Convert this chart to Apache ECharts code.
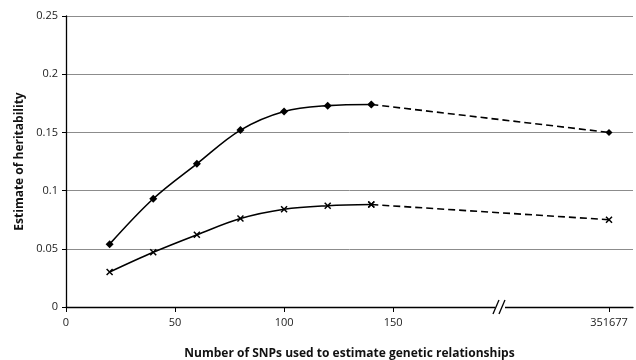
<!DOCTYPE html>
<html><head><meta charset="utf-8">
<script src="https://cdn.jsdelivr.net/npm/echarts@6/dist/echarts.min.js"></script>
<style>html,body{margin:0;padding:0;background:#fff}#c{width:636px;height:360px}</style>
</head><body><div id="c"></div>
<script>
// Data
var snpCounts = [20, 40, 60, 80, 100, 120, 140];
var allSnpCount = 351677;
var diamondValues = [0.054, 0.093, 0.123, 0.152, 0.168, 0.173, 0.174];
var diamondAll = 0.150;
var crossValues = [0.030, 0.047, 0.062, 0.076, 0.084, 0.087, 0.088];
var crossAll = 0.075;
var xTickLabels = ['0', '50', '100', '150', '351677'];
var yTickLabels = ['0', '0.05', '0.1', '0.15', '0.2', '0.25'];

// Broken axis: the full SNP count is shown at a compressed position
var breakPos = 199;      // where the axis break mark sits
var allSnpPos = 249;     // axis position used for the full SNP count
var xTickValues = [0, 50, 100, 150, allSnpPos];

var chart = echarts.init(document.getElementById('c'));
var font = 'Open Sans, DejaVu Sans, sans-serif';
var crossSym = 'path://M0,0L10,10M10,0L0,10';

function pairs(xs, ys) { return xs.map(function (x, i) { return [x, ys[i]]; }); }
var last = snpCounts.length - 1;

chart.setOption({
  animation: false,
  grid: { left: 66, right: 3, top: 16, bottom: 53, outerBoundsMode: 'none', containLabel: false },
  xAxis: {
    type: 'value', min: 0, max: 260,
    name: 'Number of SNPs used to estimate genetic relationships',
    nameLocation: 'middle', nameGap: 41,
    nameTextStyle: { fontFamily: font, fontWeight: 'bold', fontSize: 12, color: '#111' },
    axisLine: { lineStyle: { color: '#000', width: 1.3 } },
    axisTick: { show: true, customValues: xTickValues, length: 5, lineStyle: { color: '#000' } },
    axisLabel: {
      customValues: xTickValues, fontFamily: font, fontSize: 11, color: '#222', margin: 10,
      formatter: function (v) { var i = xTickValues.indexOf(v); return i >= 0 ? xTickLabels[i] : ''; }
    },
    splitLine: { show: false }
  },
  yAxis: {
    type: 'value', min: 0, max: 0.25, interval: 0.05,
    name: 'Estimate of heritability', nameLocation: 'middle', nameGap: 38,
    nameTextStyle: { fontFamily: font, fontWeight: 'bold', fontSize: 12, color: '#111' },
    axisLine: { show: true, lineStyle: { color: '#000', width: 1.3 } },
    axisTick: { show: true, length: 4, inside: false, lineStyle: { color: '#000' } },
    axisLabel: {
      fontFamily: font, fontSize: 11, color: '#222', margin: 8,
      formatter: function (v) { return yTickLabels[Math.round(v / 0.05)]; }
    },
    splitLine: { show: true, lineStyle: { color: '#8c8c8c', width: 1 } }
  },
  series: [
    { type: 'line', data: pairs(snpCounts, diamondValues), smooth: 0.35,
      symbol: 'diamond', symbolSize: 8, itemStyle: { color: '#000' },
      lineStyle: { color: '#000', width: 1.6 } },
    { type: 'line', data: [[snpCounts[last], diamondValues[last]], [allSnpPos, diamondAll]],
      symbol: 'diamond', symbolSize: 7, itemStyle: { color: '#000' },
      lineStyle: { color: '#000', width: 1.6, type: [7, 4] } },
    { type: 'line', data: pairs(snpCounts, crossValues), smooth: 0.35,
      symbol: crossSym, symbolSize: 6,
      itemStyle: { color: 'none', borderColor: '#000', borderWidth: 1.5 },
      lineStyle: { color: '#000', width: 1.6 } },
    { type: 'line', data: [[snpCounts[last], crossValues[last]], [allSnpPos, crossAll]],
      symbol: crossSym, symbolSize: 6,
      itemStyle: { color: 'none', borderColor: '#000', borderWidth: 1.5 },
      lineStyle: { color: '#000', width: 1.6, type: [7, 4] } }
  ]
});

// Axis break mark "//"
var p = chart.convertToPixel({ gridIndex: 0 }, [breakPos, 0]);
chart.setOption({
  graphic: [
    { type: 'rect', shape: { x: p[0] - 5, y: p[1] - 3, width: 10, height: 6 }, style: { fill: '#fff' }, z: 100 },
    { type: 'line', shape: { x1: p[0] - 7, y1: p[1] + 7, x2: p[0] - 1, y2: p[1] - 7 }, style: { stroke: '#000', lineWidth: 1.3 }, z: 101 },
    { type: 'line', shape: { x1: p[0] - 1, y1: p[1] + 7, x2: p[0] + 5, y2: p[1] - 7 }, style: { stroke: '#000', lineWidth: 1.3 }, z: 101 }
  ]
});
</script></body></html>
